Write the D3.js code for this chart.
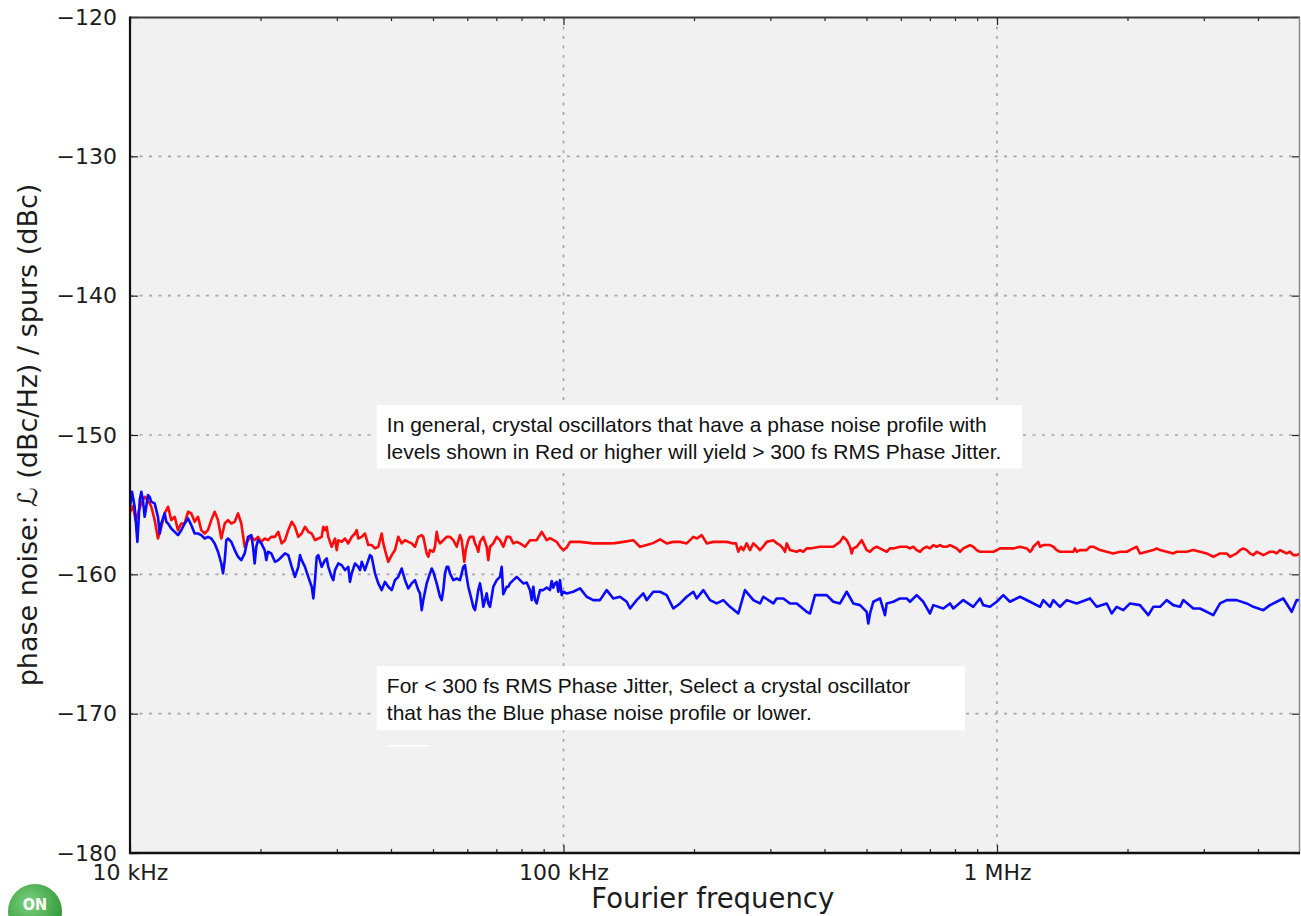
<!DOCTYPE html>
<html>
<head>
<meta charset="utf-8">
<script src="https://cdn.jsdelivr.net/npm/d3@7"></script>
<style>
  html, body { margin: 0; padding: 0; background: #fff; }
  svg { display: block; }
</style>
</head>
<body>
<div id="chart"></div>
<script>
// Phase noise profiles (frequency in kHz, level in dBc/Hz)
const redFreqKHz = [
  10.00, 10.16, 10.30, 10.43, 10.62, 10.81, 11.00, 11.20, 11.40, 11.60,
  11.81, 12.02, 12.24, 12.45, 12.68, 12.90, 13.13, 13.37, 13.61, 13.85,
  14.10, 14.35, 14.60, 14.87, 15.13, 15.40, 15.68, 15.96, 16.24, 16.54,
  16.83, 17.13, 17.44, 17.75, 18.06, 18.39, 18.72, 19.05, 19.39, 19.74,
  20.09, 20.45, 20.81, 21.18, 21.60, 21.98, 22.38, 22.78, 23.18, 23.61,
  24.02, 24.45, 24.89, 25.33, 25.78, 26.25, 26.72, 27.19, 27.68, 27.92,
  28.17, 28.43, 28.67, 29.19, 29.71, 29.98, 30.24, 30.79, 31.33, 31.88,
  32.47, 33.04, 33.34, 33.62, 34.24, 34.84, 35.46, 36.10, 36.74, 37.39,
  38.07, 38.40, 38.75, 39.43, 40.15, 40.86, 41.58, 42.34, 43.09, 43.85,
  44.65, 45.44, 46.24, 47.09, 47.49, 48.35, 48.77, 49.21, 50.08, 50.53,
  50.99, 51.43, 51.89, 52.81, 53.77, 54.72, 55.69, 56.71, 57.71, 58.23,
  58.73, 59.04, 59.48, 60.31, 60.86, 61.93, 62.50, 63.06, 63.60, 64.18,
  65.31, 66.50, 67.07, 67.68, 68.88, 70.13, 71.37, 72.63, 73.96, 75.26,
  76.60, 77.99, 79.37, 81.51, 83.70, 86.73, 89.07, 91.46, 93.08, 96.45,
  98.16, 99.90, 101.7, 103.5, 109.2, 117.1, 125.8, 131.5, 137.4, 144.9,
  150.1, 155.6, 160.9, 167.0, 173.0, 178.9, 185.7, 192.4, 199.3, 203.2,
  208.4, 214.0, 221.2, 229.6, 238.3, 246.4, 250.0, 253.1, 256.7, 259.9,
  264.6, 269.3, 274.1, 279.5, 284.0, 288.6, 294.3, 304.8, 310.8, 315.8,
  320.9, 324.3, 327.3, 333.0, 345.1, 351.2, 357.4, 363.9, 370.4, 390.6,
  419.2, 434.4, 442.0, 450.1, 458.0, 462.2, 466.1, 474.6, 487.4, 491.6,
  500.5, 509.4, 518.4, 527.8, 537.2, 546.7, 556.6, 566.5, 576.5, 597.4,
  619.0, 630.0, 641.1, 652.8, 664.3, 676.1, 688.4, 700.5, 712.9, 725.9,
  738.8, 751.8, 765.5, 779.1, 792.8, 807.3, 821.6, 836.1, 851.3, 866.4,
  881.7, 897.8, 913.6, 946.7, 980.5, 998.4, 1016, 1053, 1090, 1130,
  1171, 1192, 1202, 1213, 1235, 1245, 1257, 1279, 1325, 1349,
  1373, 1397, 1448, 1500, 1513, 1527, 1554, 1610, 1639, 1668,
  1698, 1728, 1791, 1855, 1922, 1992, 2063, 2100, 2137, 2215,
  2294, 2336, 2377, 2463, 2551, 2597, 2643, 2739, 2837, 2940,
  3046, 3100, 3155, 3212, 3269, 3388, 3448, 3508, 3572, 3636,
  3700, 3767, 3834, 3902, 3973, 4043, 4115, 4190, 4264, 4339,
  4418, 4496, 4576, 4659, 4742, 4825, 4913, 5000
];
const redDb = [
  -155.53, -155.10, -156.11, -155.63, -154.91, -154.44, -154.67, -155.15, -156.11, -157.43,
  -156.59, -155.63, -155.15, -156.11, -155.87, -156.83, -156.35, -156.35, -155.51, -155.63,
  -156.23, -155.87, -156.83, -157.07, -156.83, -156.11, -155.51, -156.11, -157.43, -156.35,
  -156.11, -156.35, -156.23, -155.63, -156.35, -158.02, -157.55, -157.31, -157.55, -157.31,
  -157.67, -157.43, -157.55, -157.31, -157.31, -156.95, -157.78, -157.55, -156.83, -156.23,
  -156.59, -157.31, -157.07, -156.59, -156.95, -157.07, -157.55, -157.43, -157.31, -156.59,
  -156.83, -156.59, -157.31, -158.02, -157.43, -158.26, -157.55, -157.67, -157.43, -157.78,
  -157.31, -157.07, -156.83, -157.43, -157.31, -157.07, -157.90, -157.90, -158.14, -158.02,
  -157.07, -157.78, -158.26, -159.10, -158.62, -158.26, -157.31, -157.78, -157.55, -157.67,
  -157.78, -158.02, -157.31, -157.19, -157.31, -158.50, -158.74, -158.26, -158.38, -158.02,
  -156.95, -157.55, -157.78, -157.55, -157.31, -157.31, -157.55, -158.02, -157.19, -157.55,
  -158.50, -159.10, -158.26, -157.55, -157.31, -157.31, -157.78, -158.02, -158.38, -157.67,
  -157.31, -158.02, -158.98, -158.02, -157.78, -157.31, -157.55, -158.02, -157.31, -157.31,
  -157.78, -157.67, -157.78, -158.02, -157.55, -157.55, -156.95, -157.55, -157.40, -157.67,
  -158.02, -158.26, -158.08, -157.67, -157.67, -157.78, -157.78, -157.76, -157.67, -157.55,
  -158.02, -157.90, -157.76, -157.49, -157.78, -157.67, -157.67, -157.78, -157.31, -157.43,
  -157.19, -157.78, -157.67, -157.67, -157.67, -157.78, -157.78, -158.38, -158.02, -158.26,
  -157.78, -158.26, -157.78, -158.02, -158.26, -158.02, -157.67, -157.55, -157.78, -157.90,
  -158.14, -158.38, -157.78, -158.26, -158.38, -158.26, -158.38, -158.14, -158.14, -158.02,
  -158.02, -157.67, -157.31, -157.55, -158.02, -158.50, -158.14, -158.02, -157.55, -157.78,
  -158.26, -158.38, -158.14, -158.02, -158.14, -158.26, -158.38, -158.14, -158.14, -158.02,
  -158.02, -158.14, -158.02, -158.26, -158.38, -158.14, -158.02, -158.14, -157.90, -158.02,
  -157.90, -158.02, -158.02, -157.90, -158.02, -158.14, -158.38, -158.14, -158.02, -157.90,
  -158.02, -158.26, -158.38, -158.38, -158.38, -158.26, -158.14, -158.14, -158.14, -158.02,
  -158.14, -158.38, -158.26, -158.02, -157.78, -157.67, -158.02, -157.90, -157.90, -158.02,
  -158.26, -158.38, -158.38, -158.38, -158.14, -158.38, -158.26, -158.26, -158.02, -158.02,
  -158.14, -158.26, -158.38, -158.50, -158.38, -158.38, -158.14, -158.02, -158.50, -158.38,
  -158.26, -158.14, -158.26, -158.38, -158.50, -158.38, -158.38, -158.38, -158.26, -158.38,
  -158.50, -158.62, -158.74, -158.62, -158.50, -158.50, -158.74, -158.62, -158.50, -158.26,
  -158.14, -158.26, -158.50, -158.62, -158.38, -158.50, -158.62, -158.50, -158.38, -158.38,
  -158.50, -158.26, -158.38, -158.50, -158.38, -158.62, -158.62, -158.50
];

const blueFreqKHz = [
  10.00, 10.11, 10.25, 10.40, 10.53, 10.62, 10.71, 10.81, 10.90, 11.00,
  11.10, 11.20, 11.40, 11.60, 11.71, 11.81, 12.02, 12.13, 12.24, 12.45,
  12.68, 12.90, 13.13, 13.37, 13.61, 13.85, 14.10, 14.35, 14.60, 14.87,
  15.13, 15.40, 15.68, 15.96, 16.24, 16.39, 16.54, 16.68, 16.83, 17.13,
  17.44, 17.75, 18.06, 18.39, 18.72, 19.05, 19.22, 19.39, 19.56, 19.74,
  20.09, 20.45, 20.63, 20.81, 21.18, 21.60, 21.98, 22.38, 22.78, 23.18,
  23.61, 24.02, 24.45, 24.67, 24.89, 25.33, 25.78, 26.25, 26.48, 26.72,
  26.96, 27.19, 27.68, 28.17, 28.43, 28.67, 29.19, 29.44, 29.71, 30.24,
  30.79, 31.33, 31.88, 32.17, 32.47, 33.04, 33.62, 33.93, 34.24, 34.84,
  35.46, 35.78, 36.10, 36.74, 37.39, 38.07, 38.75, 39.43, 40.15, 40.86,
  41.58, 42.34, 43.09, 43.85, 44.65, 45.44, 46.24, 46.66, 47.09, 47.49,
  48.35, 49.21, 49.66, 50.08, 50.99, 51.89, 52.36, 52.81, 53.29, 53.77,
  54.23, 54.72, 55.69, 56.71, 57.71, 58.23, 58.73, 59.26, 59.80, 60.31,
  60.86, 61.93, 62.50, 63.06, 63.60, 64.18, 64.76, 65.31, 65.91, 66.50,
  67.07, 67.68, 68.29, 68.88, 70.13, 71.37, 72.02, 72.63, 73.96, 74.59,
  75.26, 76.60, 77.99, 79.37, 80.77, 82.25, 83.70, 84.46, 85.18, 85.95,
  86.73, 87.47, 88.27, 89.83, 91.46, 93.08, 93.93, 94.73, 95.59, 96.45,
  97.28, 98.16, 99.05, 99.90, 101.7, 105.3, 109.2, 113.1, 117.1, 121.4,
  125.8, 130.3, 135.0, 139.9, 142.4, 147.5, 152.8, 155.6, 161.1, 167.0,
  173.0, 179.2, 185.7, 192.4, 199.3, 202.9, 210.1, 217.8, 225.6, 233.7,
  242.2, 253.1, 262.2, 274.1, 284.0, 289.0, 304.8, 310.3, 321.4, 333.0,
  345.1, 363.9, 370.4, 380.3, 390.6, 404.7, 419.2, 434.4, 450.1, 466.1,
  483.0, 500.5, 504.8, 509.4, 518.4, 537.2, 551.6, 556.6, 576.5, 597.4,
  619.0, 630.0, 652.8, 676.1, 700.5, 712.9, 751.8, 779.1, 792.8, 836.1,
  881.7, 913.6, 929.8, 963.5, 998.4, 1034, 1071, 1130, 1192, 1257,
  1279, 1325, 1349, 1397, 1448, 1527, 1639, 1698, 1791, 1839,
  1889, 1956, 2027, 2137, 2234, 2294, 2377, 2463, 2551, 2643,
  2690, 2837, 2940, 3155, 3269, 3388, 3572, 3767, 3902, 4115,
  4264, 4418, 4576, 4785, 4913, 5000
];
const blueDb = [
  -155.15, -154.08, -155.15, -157.67, -154.67, -154.08, -154.67, -155.87, -155.15, -154.31,
  -154.44, -154.80, -154.91, -155.87, -157.07, -156.35, -155.63, -156.23, -156.35, -156.71,
  -156.95, -157.19, -156.83, -156.35, -155.99, -156.47, -157.07, -157.07, -157.19, -157.43,
  -157.31, -157.43, -157.78, -158.38, -159.22, -159.93, -158.98, -157.55, -157.43, -157.67,
  -158.26, -158.74, -158.98, -158.50, -157.31, -157.19, -158.02, -159.22, -158.02, -157.55,
  -157.78, -158.26, -158.98, -158.38, -158.50, -159.10, -158.98, -158.74, -158.50, -158.62,
  -159.46, -160.18, -159.46, -158.62, -158.98, -159.46, -160.18, -160.89, -161.73, -160.42,
  -158.74, -158.62, -159.46, -158.98, -158.86, -159.46, -160.18, -160.42, -159.70, -159.22,
  -159.34, -159.70, -159.46, -160.54, -159.93, -159.22, -159.46, -159.70, -159.10, -159.70,
  -158.98, -158.62, -158.74, -159.93, -160.65, -161.13, -160.54, -160.89, -161.13, -160.42,
  -160.18, -159.58, -160.42, -161.01, -160.65, -160.42, -161.13, -161.37, -162.57, -161.85,
  -160.65, -159.93, -159.58, -159.82, -160.65, -161.61, -161.85, -161.13, -159.93, -159.46,
  -159.46, -159.93, -160.42, -160.30, -160.42, -159.93, -159.46, -159.34, -160.18, -160.89,
  -161.37, -162.33, -162.57, -161.85, -161.13, -160.65, -161.37, -162.33, -161.85, -161.37,
  -162.09, -162.33, -161.61, -160.89, -160.42, -160.18, -159.46, -161.42, -160.89, -160.89,
  -160.65, -160.42, -160.18, -160.42, -160.65, -160.59, -161.13, -161.85, -160.89, -161.85,
  -162.09, -161.61, -161.13, -161.13, -160.95, -161.13, -160.48, -160.95, -160.65, -160.54,
  -161.25, -160.42, -161.49, -161.25, -161.37, -161.25, -161.01, -161.61, -161.85, -161.85,
  -161.13, -161.73, -161.61, -161.97, -162.45, -161.85, -161.37, -161.85, -161.25, -161.25,
  -161.49, -162.45, -162.09, -161.61, -161.25, -161.73, -161.13, -161.85, -162.09, -161.85,
  -162.33, -162.81, -161.13, -161.85, -162.09, -161.61, -162.09, -161.73, -161.73, -162.09,
  -162.09, -162.69, -162.81, -161.49, -161.49, -161.49, -161.97, -162.09, -161.25, -162.09,
  -162.21, -162.69, -163.53, -162.81, -161.97, -161.73, -162.93, -162.09, -161.97, -161.73,
  -161.73, -161.97, -161.49, -161.97, -162.81, -162.21, -162.45, -162.09, -162.45, -161.85,
  -162.33, -161.73, -162.21, -162.33, -161.97, -161.49, -161.97, -161.61, -161.97, -162.33,
  -161.85, -162.33, -161.85, -162.33, -161.85, -162.09, -161.73, -162.33, -162.09, -162.81,
  -162.33, -162.57, -162.09, -162.21, -162.93, -162.33, -162.33, -161.85, -162.21, -162.33,
  -161.85, -162.45, -162.45, -162.93, -162.09, -161.85, -161.85, -162.09, -162.33, -162.57,
  -162.21, -161.97, -161.73, -162.69, -161.85, -161.85
];

// Axis ticks
const yTicks = [-180, -170, -160, -150, -140, -130, -120];
const xMajor = [10, 100, 1000];
const xMajorLabels = ['10 kHz', '100 kHz', '1 MHz'];
const xMinor = [20, 30, 40, 50, 60, 70, 80, 90, 200, 300, 400, 500, 600, 700, 800, 900, 2000, 3000, 4000];

// Annotation texts
const redNote = [
  'In general, crystal oscillators that have a phase noise profile with',
  'levels shown in Red or higher will yield > 300 fs RMS Phase Jitter.'
];
const blueNote = [
  'For < 300 fs RMS Phase Jitter, Select a crystal oscillator',
  'that has the Blue phase noise profile or lower.'
];

const W = 1301, H = 916;
const plot = { left: 130, right: 1300, top: 17, bottom: 853 };

const svg = d3.select('#chart').append('svg')
  .attr('width', W)
  .attr('height', H)
  .attr('viewBox', [0, 0, W, H]);

const x = d3.scaleLog().domain([10, 5000]).range([plot.left, plot.right]);
const y = d3.scaleLinear().domain([-180, -120]).range([plot.bottom, plot.top]);

// -------- Plot background --------
svg.append('rect')
  .attr('x', plot.left).attr('y', plot.top)
  .attr('width', plot.right - plot.left)
  .attr('height', plot.bottom - plot.top)
  .attr('fill', '#f1f1f1');

svg.append('clipPath').attr('id', 'clip')
  .append('rect')
  .attr('x', plot.left).attr('y', plot.top)
  .attr('width', plot.right - plot.left)
  .attr('height', plot.bottom - plot.top);

// -------- Dotted grid --------
const grid = svg.append('g')
  .attr('stroke', '#a6a6a6')
  .attr('stroke-width', 1.6)
  .attr('stroke-dasharray', '3,6.5');

grid.selectAll('line.h')
  .data(yTicks.filter(v => v > -180 && v < -120))
  .join('line')
  .attr('class', 'h')
  .attr('x1', plot.left).attr('x2', plot.right)
  .attr('y1', d => y(d)).attr('y2', d => y(d));

grid.selectAll('line.v')
  .data(xMajor.filter(v => v > 10))
  .join('line')
  .attr('class', 'v')
  .attr('x1', d => x(d)).attr('x2', d => x(d))
  .attr('y1', plot.top).attr('y2', plot.bottom);

// -------- Curves --------
const line = d3.line().x(d => x(d[0])).y(d => y(d[1]));
const curves = svg.append('g').attr('clip-path', 'url(#clip)')
  .attr('fill', 'none')
  .attr('stroke-width', 2.6)
  .attr('stroke-linejoin', 'round');

curves.append('path')
  .datum(d3.zip(redFreqKHz, redDb))
  .attr('stroke', '#ff0a0a')
  .attr('d', line);

curves.append('path')
  .datum(d3.zip(blueFreqKHz, blueDb))
  .attr('stroke', '#0a0aff')
  .attr('d', line);

// -------- Annotation boxes --------
function note(lines, f0, f1, db0, db1) {
  const g = svg.append('g');
  const bx = x(f0), by = y(db0);
  g.append('rect')
    .attr('x', bx).attr('y', by)
    .attr('width', x(f1) - bx)
    .attr('height', y(db1) - by)
    .attr('fill', '#fff');
  g.selectAll('text')
    .data(lines)
    .join('text')
    .attr('x', bx + 10)
    .attr('y', (d, i) => by + 27 + i * 27)
    .attr('font-family', '"Liberation Sans", Arial, sans-serif')
    .attr('font-size', 21)
    .attr('fill', '#111')
    .text(d => d);
}
note(redNote, 37.1, 1142, -147.85, -152.4);
note(blueNote, 37.1, 844, -166.6, -171.2);

// stray white tick left under the blue note in the original
svg.append('line')
  .attr('x1', x(39.6)).attr('x2', x(48.9))
  .attr('y1', y(-172.3)).attr('y2', y(-172.3))
  .attr('stroke', '#fff').attr('stroke-width', 1.5);

// -------- Axes --------
const tickFont = g => g
  .attr('font-family', '"DejaVu Sans", sans-serif')
  .attr('font-size', 22)
  .call(s => s.select('.domain').remove())
  .call(s => s.selectAll('.tick line').attr('stroke', '#222').attr('stroke-width', 1.2))
  .call(s => s.selectAll('.tick text').attr('fill', '#1c1c1c'));

svg.append('g')
  .attr('transform', `translate(${plot.left},0)`)
  .call(d3.axisLeft(y).tickValues(yTicks).tickSizeInner(-8).tickSizeOuter(0).tickPadding(13))
  .call(tickFont);

svg.append('g')
  .attr('transform', `translate(${plot.right},0)`)
  .call(d3.axisRight(y).tickValues(yTicks).tickSizeInner(-8).tickSizeOuter(0).tickFormat(''))
  .call(tickFont);

svg.append('g')
  .attr('transform', `translate(0,${plot.bottom})`)
  .call(d3.axisBottom(x).tickValues(xMajor).tickSizeInner(-8).tickSizeOuter(0).tickPadding(11)
    .tickFormat((d, i) => xMajorLabels[i]))
  .call(tickFont);

svg.append('g')
  .attr('transform', `translate(0,${plot.bottom})`)
  .call(d3.axisBottom(x).tickValues(xMinor).tickSizeInner(-4).tickSizeOuter(0).tickFormat(''))
  .call(tickFont);

svg.append('g')
  .attr('transform', `translate(0,${plot.top})`)
  .call(d3.axisTop(x).tickValues(xMajor).tickSizeInner(-8).tickSizeOuter(0).tickFormat(''))
  .call(tickFont);

svg.append('g')
  .attr('transform', `translate(0,${plot.top})`)
  .call(d3.axisTop(x).tickValues(xMinor).tickSizeInner(-4).tickSizeOuter(0).tickFormat(''))
  .call(tickFont);

// -------- Frame --------
const frame = svg.append('g').attr('fill', 'none');
frame.append('line').attr('x1', plot.left).attr('x2', plot.right)
  .attr('y1', plot.top + 0.5).attr('y2', plot.top + 0.5)
  .attr('stroke', '#3a3a3a').attr('stroke-width', 2);
frame.append('line').attr('x1', plot.right - 0.5).attr('x2', plot.right - 0.5)
  .attr('y1', plot.top).attr('y2', plot.bottom)
  .attr('stroke', '#8a8a8a').attr('stroke-width', 1.5);
frame.append('line').attr('x1', plot.left).attr('x2', plot.left)
  .attr('y1', plot.top - 0.5).attr('y2', plot.bottom + 1)
  .attr('stroke', '#111').attr('stroke-width', 2.2);
frame.append('line').attr('x1', plot.left - 1).attr('x2', plot.right)
  .attr('y1', plot.bottom).attr('y2', plot.bottom)
  .attr('stroke', '#111').attr('stroke-width', 2.5);

// -------- Axis titles --------
svg.append('text')
  .attr('x', x(221))
  .attr('y', 908)
  .attr('text-anchor', 'middle')
  .attr('font-family', '"DejaVu Sans", sans-serif')
  .attr('font-size', 27.5)
  .attr('fill', '#1c1c1c')
  .text('Fourier frequency');

svg.append('text')
  .attr('transform', `translate(37,${(plot.top + plot.bottom) / 2}) rotate(-90)`)
  .attr('text-anchor', 'middle')
  .attr('font-family', '"DejaVu Sans", sans-serif')
  .attr('font-size', 27)
  .attr('fill', '#1c1c1c')
  .text('phase noise: ℒ (dBc/Hz) / spurs (dBc)');

// -------- ON logo (cut by the bottom edge) --------
const grad = svg.append('defs').append('radialGradient')
  .attr('id', 'onGrad').attr('cx', '40%').attr('cy', '35%').attr('r', '65%');
grad.append('stop').attr('offset', '0%').attr('stop-color', '#7fd07f');
grad.append('stop').attr('offset', '100%').attr('stop-color', '#2f9a38');

svg.append('circle')
  .attr('cx', 35).attr('cy', 911).attr('r', 27)
  .attr('fill', 'url(#onGrad)');
svg.append('text')
  .attr('x', 35).attr('y', 910)
  .attr('text-anchor', 'middle')
  .attr('font-family', '"DejaVu Sans Condensed", "DejaVu Sans", sans-serif')
  .attr('font-weight', 'bold')
  .attr('font-size', 16)
  .attr('fill', '#fff')
  .text('ON');
</script>
</body>
</html>
